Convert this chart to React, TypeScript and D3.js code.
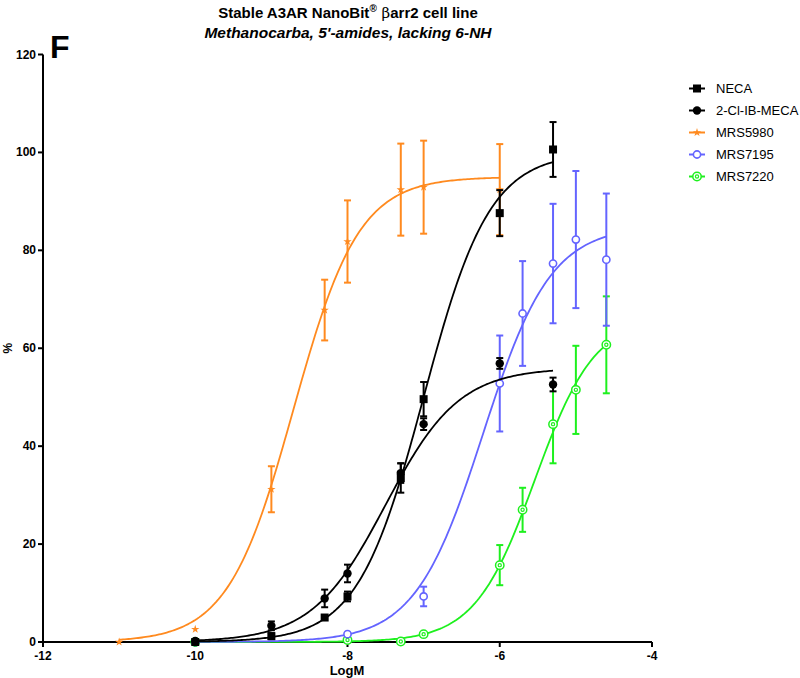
import React from 'react';
import * as d3 from 'd3';

// ---- Data (log molar concentration, % response, SEM) ----
const necaX = [-10, -9, -8.3, -8, -7.3, -7, -6, -5.3];
const necaY = [0, 1.2, 5.0, 9.3, 33.5, 49.6, 87.6, 100.6];
const necaE = [0, 0.6, 0.3, 1.0, 3.0, 3.5, 4.7, 5.6];

const clibX = [-10, -9, -8.3, -8, -7.3, -7, -6, -5.3];
const clibY = [0.2, 3.3, 8.9, 14.0, 34.5, 44.5, 56.9, 52.6];
const clibE = [0, 0.9, 1.8, 1.8, 2.0, 1.2, 1.1, 1.4];

const mrs5980X = [-11, -10, -9, -8.3, -8, -7.3, -7, -6];
const mrs5980Y = [0, 2.6, 31.2, 67.8, 81.8, 92.4, 92.9, 92.4];
const mrs5980E = [0, 0, 4.7, 6.2, 8.4, 9.4, 9.5, 9.3];

const mrs7195X = [-10, -8, -7, -6, -5.7, -5.3, -5, -4.6];
const mrs7195Y = [0, 1.6, 9.3, 52.8, 67.1, 77.3, 82.2, 78.1];
const mrs7195E = [0, 0, 2.0, 9.8, 10.7, 12.2, 14.0, 13.5];

const mrs7220X = [-10, -8, -7.3, -7, -6, -5.7, -5.3, -5, -4.6];
const mrs7220Y = [0, 0.4, 0.1, 1.6, 15.7, 27.0, 44.5, 51.5, 60.7];
const mrs7220E = [0, 0, 0, 0, 4.1, 4.5, 8.0, 9.0, 9.9];

// Fitted Hill parameters: [top, logEC50, hillSlope]
const necaFit = [100, -7.0, 1.0];
const clibFit = [56, -7.5, 0.9];
const mrs5980Fit = [95, -8.71, 1.01];
const mrs7195Fit = [85, -6.22, 0.974];
const mrs7220Fit = [66.4, -5.537, 1.1];

const seriesNames = ['NECA', '2-Cl-IB-MECA', 'MRS5980', 'MRS7195', 'MRS7220'];
const seriesColors = ['#000000', '#000000', '#FF8A1F', '#6464FF', '#1EF01E'];
const seriesMarkers = ['square', 'circle', 'star', 'openCircle', 'doubleCircle'];

const xTicks = [-12, -10, -8, -6, -4];
const yTicks = [0, 20, 40, 60, 80, 100, 120];

const FONT = "Arial, 'Liberation Sans', Helvetica, sans-serif";

type Series = { name: string; color: string; marker: string; xs: number[]; ys: number[]; es: number[]; fit: number[] };

const series: Series[] = [
  { name: seriesNames[0], color: seriesColors[0], marker: seriesMarkers[0], xs: necaX, ys: necaY, es: necaE, fit: necaFit },
  { name: seriesNames[1], color: seriesColors[1], marker: seriesMarkers[1], xs: clibX, ys: clibY, es: clibE, fit: clibFit },
  { name: seriesNames[2], color: seriesColors[2], marker: seriesMarkers[2], xs: mrs5980X, ys: mrs5980Y, es: mrs5980E, fit: mrs5980Fit },
  { name: seriesNames[3], color: seriesColors[3], marker: seriesMarkers[3], xs: mrs7195X, ys: mrs7195Y, es: mrs7195E, fit: mrs7195Fit },
  { name: seriesNames[4], color: seriesColors[4], marker: seriesMarkers[4], xs: mrs7220X, ys: mrs7220Y, es: mrs7220E, fit: mrs7220Fit },
];

const x = d3.scaleLinear().domain([-12, -4]).range([43, 652]);
const y = d3.scaleLinear().domain([0, 120]).range([642, 54.5]);

function hill(fit: number[], v: number) {
  const [top, ec, h] = fit;
  return top / (1 + Math.pow(10, (ec - v) * h));
}

function Marker({ type, cx, cy, color }: { type: string; cx: number; cy: number; color: string }) {
  if (type === 'square') return <rect x={cx - 4} y={cy - 4} width={8} height={8} fill={color} />;
  if (type === 'circle') return <circle cx={cx} cy={cy} r={4.2} fill={color} />;
  if (type === 'star') {
    const p = d3.symbol().type(d3.symbolStar).size(22)()!;
    return <path d={p} transform={`translate(${cx},${cy})`} fill={color} />;
  }
  if (type === 'openCircle') return <circle cx={cx} cy={cy} r={3.6} fill="#fff" stroke={color} strokeWidth={1.6} />;
  return (
    <g>
      <circle cx={cx} cy={cy} r={4.2} fill="#fff" stroke={color} strokeWidth={1.5} />
      <circle cx={cx} cy={cy} r={1.6} fill="none" stroke={color} strokeWidth={1.2} />
    </g>
  );
}

export default function App() {
  const line = d3.line<[number, number]>().x(d => x(d[0])).y(d => y(d[1])).curve(d3.curveLinear);

  return (
    <svg width={800} height={678} style={{ position: 'absolute', left: 0, top: 0, background: '#fff' }} fontFamily={FONT}>
      <rect x={0} y={0} width={800} height={678} fill="#fff" />
      {/* Title */}
      <text x={348} y={18} textAnchor="middle" fontSize={15} fontWeight="bold">
        Stable A3AR NanoBit<tspan fontSize={10} dy={-6}>®</tspan>
        <tspan dy={6} fontWeight="normal" fontFamily="'DejaVu Serif', serif"> β</tspan>arr2 cell line
      </text>
      <text x={348} y={38} textAnchor="middle" fontSize={15.5} fontWeight="bold" fontStyle="italic">
        Methanocarba, 5'-amides, lacking 6-NH
      </text>
      <text x={50} y={58} fontSize={32} fontWeight="bold">F</text>

      {/* Axes */}
      <g stroke="#000" strokeWidth={2} fill="none">
        <line x1={x(-12)} x2={x(-12)} y1={y(120)} y2={y(0)} />
        <line x1={x(-12)} x2={x(-4)} y1={y(0)} y2={y(0)} />
        {yTicks.map(t => (
          <line key={'yt' + t} x1={x(-12) - 5} x2={x(-12)} y1={y(t)} y2={y(t)} />
        ))}
        {xTicks.map(t => (
          <line key={'xt' + t} x1={x(t)} x2={x(t)} y1={y(0)} y2={y(0) + 5} />
        ))}
      </g>
      {yTicks.map(t => (
        <text key={'yl' + t} x={x(-12) - 7} y={y(t) + 4} textAnchor="end" fontSize={12} fontWeight="bold">{t}</text>
      ))}
      {xTicks.map(t => (
        <text key={'xl' + t} x={x(t)} y={y(0) + 18} textAnchor="middle" fontSize={12} fontWeight="bold">{t}</text>
      ))}
      <text x={347} y={675} textAnchor="middle" fontSize={13} fontWeight="bold">LogM</text>
      <text transform={`translate(12,${(y(0) + y(120)) / 2}) rotate(-90)`} textAnchor="middle" fontSize={12} fontWeight="bold">%</text>

      {/* Series */}
      {series.map(s => {
        const lo = d3.min(s.xs)!;
        const hi = d3.max(s.xs)!;
        const pts: [number, number][] = d3.range(0, 201).map(i => {
          const v = lo + (hi - lo) * i / 200;
          return [v, hill(s.fit, v)];
        });
        return (
          <g key={s.name}>
            <path d={line(pts)!} fill="none" stroke={s.color} strokeWidth={1.8} />
            {s.xs.map((xv, i) => s.es[i] > 0.4 ? (
              <g key={'e' + i} stroke={s.color} strokeWidth={2}>
                <line x1={x(xv)} x2={x(xv)} y1={y(s.ys[i] + s.es[i])} y2={y(s.ys[i] - s.es[i])} />
                <line x1={x(xv) - 3.5} x2={x(xv) + 3.5} y1={y(s.ys[i] + s.es[i])} y2={y(s.ys[i] + s.es[i])} />
                <line x1={x(xv) - 3.5} x2={x(xv) + 3.5} y1={y(s.ys[i] - s.es[i])} y2={y(s.ys[i] - s.es[i])} />
              </g>
            ) : null)}
            {s.xs.map((xv, i) => (
              <Marker key={'m' + i} type={s.marker} cx={x(xv)} cy={y(s.ys[i])} color={s.color} />
            ))}
          </g>
        );
      }).reverse()}

      {/* Legend */}
      {series.map((s, i) => {
        const cy = 88.5 + i * 22;
        return (
          <g key={'lg' + s.name}>
            <line x1={689} x2={705} y1={cy} y2={cy} stroke={s.color} strokeWidth={2} />
            <Marker type={s.marker} cx={697} cy={cy} color={s.color} />
            <text x={716} y={cy + 4.5} fontSize={13}>{s.name}</text>
          </g>
        );
      })}
    </svg>
  );
}
